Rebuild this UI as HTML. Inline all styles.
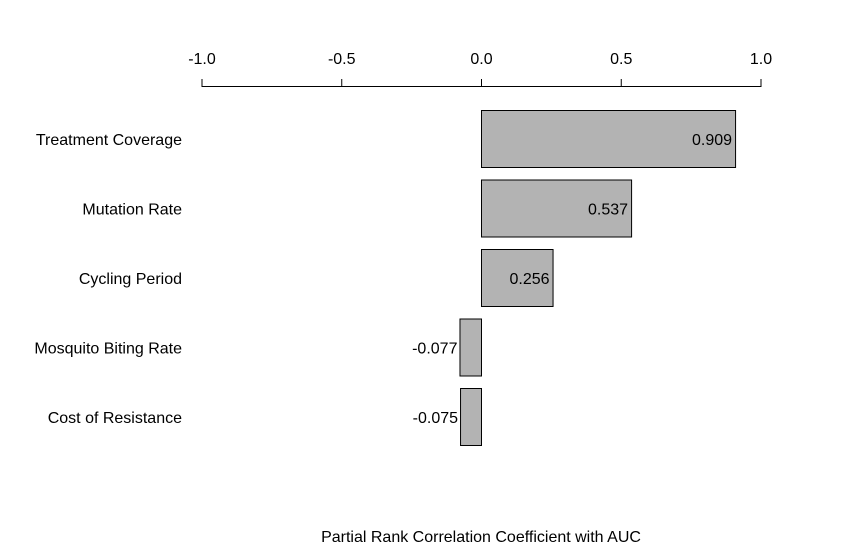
<!DOCTYPE html>
<html><head><meta charset="utf-8"><style>
html,body{margin:0;padding:0;background:#fff}
svg text{font-family:"Liberation Sans",Arial,sans-serif;font-size:16px;fill:#000}
</style></head><body>
<svg id="chart" width="847" height="555" viewBox="0 0 847 555" xmlns="http://www.w3.org/2000/svg">
<g id="axis"></g>
<g id="bars"></g>
<text x="481" y="542" text-anchor="middle">Partial Rank Correlation Coefficient with AUC</text>
</svg>
<script>
const categories = ["Treatment Coverage","Mutation Rate","Cycling Period","Mosquito Biting Rate","Cost of Resistance"];
const values = [0.909,0.537,0.256,-0.077,-0.075];
const valueLabels = ["0.909","0.537","0.256","-0.077","-0.075"];
const ticks = [-1,-0.5,0,0.5,1];
const tickLabels = ["-1.0","-0.5","0.0","0.5","1.0"];
const NS="http://www.w3.org/2000/svg";
const x = v => 481 + v*279.5;
const yTop = i => 110.5 + i*69.5;
const bh = 57;
function mk(tag, attrs, parent){const e=document.createElementNS(NS,tag);for(const k in attrs)e.setAttribute(k,attrs[k]);parent.appendChild(e);return e;}
const axis=document.getElementById('axis');
const al=mk('line',{x1:x(-1),x2:x(1)+1,y1:86.5,y2:86.5,stroke:'#000','stroke-width':1},axis);


ticks.forEach((t,i)=>{
  const tl=mk('line',{x1:x(t)+0.5,x2:x(t)+0.5,y1:79,y2:86.5,stroke:'#000','stroke-width':1},axis);
  
  
  const tx=mk('text',{x:x(t)+0.5,y:64,'text-anchor':'middle'},axis);
  tx.textContent=tickLabels[i];
  
  
});
const bars=document.getElementById('bars');
categories.forEach((c,i)=>{
  const v=values[i];
  const x0=Math.min(x(0),x(v)), w=Math.abs(x(v)-x(0));
  const r=mk('rect',{x:x0+0.5,y:yTop(i),width:w,height:bh,fill:'#b3b3b3',stroke:'#000','stroke-width':1},bars);
  
  
  const cy=yTop(i)+bh/2+6;
  const cl=mk('text',{x:182,y:cy,'text-anchor':'end'},bars);
  cl.textContent=c;
  
  
  const vl = v>=0 ? mk('text',{x:x(v)-3,y:cy,'text-anchor':'end'},bars) : mk('text',{x:x(v)-2,y:cy,'text-anchor':'end'},bars);
  vl.textContent=valueLabels[i];
  
  
});
</script>
</body></html>
